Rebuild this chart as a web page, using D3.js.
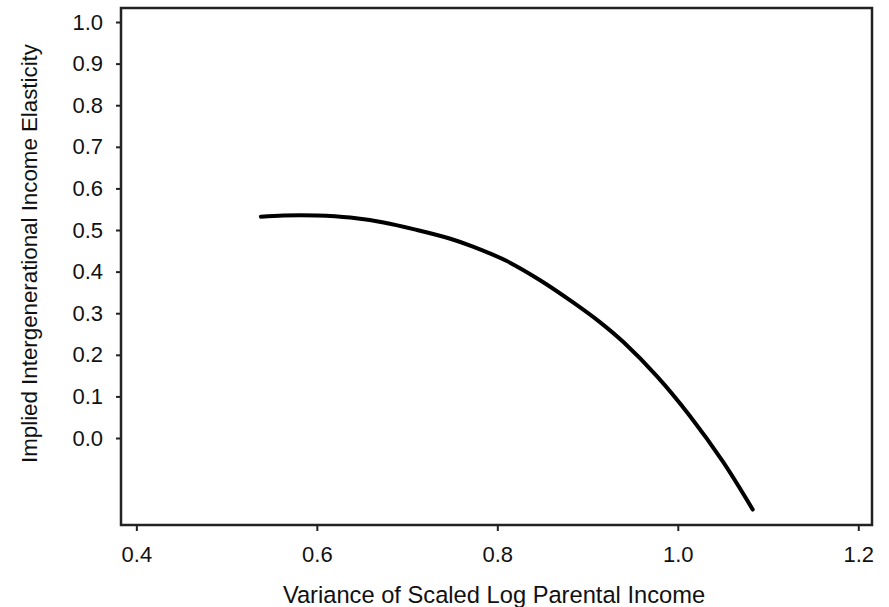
<!DOCTYPE html>
<html>
<head>
<meta charset="utf-8">
<script src="https://cdn.jsdelivr.net/npm/d3@7"></script>
<style>
  html, body { margin: 0; padding: 0; background: #fff; }
  svg { display: block; }
  text { font-family: "Liberation Sans", Arial, sans-serif; fill: #111; }
</style>
</head>
<body>
<svg id="chart" width="889" height="607"></svg>
<script>
// Data
const varianceX = [0.538, 0.563, 0.600, 0.637, 0.674, 0.711, 0.748, 0.773, 0.810, 0.847, 0.884, 0.914, 0.940, 0.977, 1.013, 1.050, 1.083];
const elasticityY = [0.532, 0.535, 0.535, 0.530, 0.518, 0.500, 0.479, 0.460, 0.426, 0.380, 0.326, 0.278, 0.230, 0.148, 0.054, -0.057, -0.172];
const xTicks = [0.4, 0.6, 0.8, 1.0, 1.2];
const yTicks = [0.0, 0.1, 0.2, 0.3, 0.4, 0.5, 0.6, 0.7, 0.8, 0.9, 1.0];
const xTitle = "Variance of Scaled Log Parental Income";
const yTitle = "Implied Intergenerational Income Elasticity";

const svg = d3.select("#chart");
const plotLeft = 121, plotRight = 872, plotTop = 8, plotBottom = 525;

const x = d3.scaleLinear().domain([0.383, 1.2152]).range([plotLeft, plotRight]);
const y = d3.scaleLinear().domain([-0.2091, 1.0337]).range([plotBottom, plotTop]);

// Axes
const xAxis = d3.axisBottom(x).tickValues(xTicks).tickFormat(d3.format(".1f")).tickSize(6).tickSizeOuter(0).tickPadding(15);
const yAxis = d3.axisLeft(y).tickValues(yTicks).tickFormat(d3.format(".1f")).tickSize(5).tickSizeOuter(0).tickPadding(13);

const gx = svg.append("g").attr("transform", `translate(0,${plotBottom})`).call(xAxis);
const gy = svg.append("g").attr("transform", `translate(${plotLeft},0)`).call(yAxis);
[gx, gy].forEach(g => {
  g.select(".domain").remove();
  g.selectAll(".tick line").attr("stroke", "#222").attr("stroke-width", 2);
  g.selectAll(".tick text").attr("font-size", 22).attr("fill", "#111")
    .style("font-family", '"Liberation Sans", Arial, sans-serif');
});

// Frame
svg.append("rect")
  .attr("x", plotLeft).attr("y", plotTop)
  .attr("width", plotRight - plotLeft).attr("height", plotBottom - plotTop)
  .attr("fill", "none").attr("stroke", "#222").attr("stroke-width", 2.5);

// Curve
const pts = varianceX.map((v, i) => [v, elasticityY[i]]);
const line = d3.line().x(d => x(d[0])).y(d => y(d[1])).curve(d3.curveCatmullRom.alpha(0.5));
svg.append("path")
  .attr("d", line(pts))
  .attr("fill", "none")
  .attr("stroke", "#000")
  .attr("stroke-width", 4)
  .attr("stroke-linecap", "round")
  .attr("stroke-linejoin", "round");

// Titles
svg.append("text")
  .attr("x", 494).attr("y", 603)
  .attr("text-anchor", "middle")
  .attr("font-size", 23.7)
  .text(xTitle);

svg.append("text")
  .attr("transform", "translate(37,253.5) rotate(-90)")
  .attr("text-anchor", "middle")
  .attr("font-size", 22.3)
  .text(yTitle);
</script>
</body>
</html>
